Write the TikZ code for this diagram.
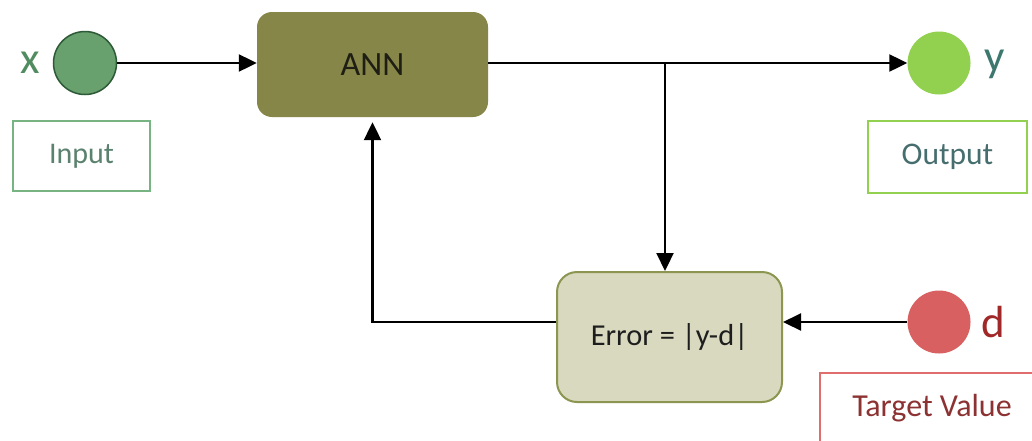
\documentclass[tikz,border=0pt]{standalone}
\usepackage{fontspec}
\setmainfont{Carlito}
\usetikzlibrary{arrows.meta}
\definecolor{incol}{RGB}{104,160,110}
\definecolor{inborder}{RGB}{45,90,55}
\definecolor{annfill}{RGB}{134,134,72}
\definecolor{errfill}{RGB}{216,217,190}
\definecolor{errborder}{RGB}{140,150,80}
\definecolor{outcol}{RGB}{146,208,80}
\definecolor{dcol}{RGB}{217,96,96}
\definecolor{inboxcol}{RGB}{120,180,130}
\definecolor{tgtbox}{RGB}{225,110,110}
\definecolor{xlab}{RGB}{80,140,95}
\definecolor{intext}{RGB}{90,130,110}
\definecolor{ylab}{RGB}{60,120,110}
\definecolor{outtext}{RGB}{70,110,110}
\definecolor{dlab}{RGB}{160,40,40}
\definecolor{tgttext}{RGB}{140,50,50}
\begin{document}
\begin{tikzpicture}[x=1pt,y=-1pt,
  arr/.style={line width=2.2pt,-{Triangle[length=18pt,width=17pt]}},
  dot/.style={circle,minimum size=63pt,inner sep=0pt},
  lab/.style={font=\fontsize{45}{50}\selectfont,inner sep=0pt},
  tag/.style={rectangle,line width=1.5pt,inner sep=0pt},
  proc/.style={rectangle,inner sep=0pt}]
\useasboundingbox[fill=white] (0,0) rectangle (1032,440);
% input
\node[dot,fill=incol,draw=inborder,line width=1.5pt] (xin) at (85,63) {};
\node[lab,text=xlab] (xl) at (30,62.5) {x};
\node[tag,draw=inboxcol,text=intext,minimum width=137pt,minimum height=70pt,font=\fontsize{30}{34}\selectfont] (inbox) at (81.5,156) {Input};
% ANN
\node[proc,fill=annfill,rounded corners=15pt,minimum width=231pt,minimum height=105pt,text={rgb,255:red,30;green,30;blue,20},font=\fontsize{34}{38}\selectfont] (ann) at (372.5,64.5) {ANN};
% output
\node[dot,fill=outcol] (yout) at (939,63) {};
\node[lab,text=ylab] (yl) at (995,64) {y};
\node[tag,draw=outcol,text=outtext,minimum width=159pt,minimum height=72pt,font=\fontsize{31.5}{35}\selectfont] (outbox) at (947.5,157) {Output};
% error
\node[proc,fill=errfill,draw=errborder,line width=2pt,rounded corners=20pt,minimum width=225pt,minimum height=130pt,text={rgb,255:red,30;green,30;blue,30},font=\fontsize{30.4}{34}\selectfont] (err) at (669.5,337) {Error = |y-d|};
% target
\node[dot,fill=dcol] (dout) at (939,322) {};
\node[lab,text=dlab] (dl) at (993,322.5) {d};
\node[tag,draw=tgtbox,text=tgttext,minimum width=224pt,minimum height=70pt,font=\fontsize{32}{36}\selectfont] (tbox) at (932,408) {Target Value};
% connectors
\coordinate (br) at (665,63);
\draw[arr] (xin.east) -- (xin.east -| ann.west);
\draw[arr] (ann.east |- yout) -- (yout.west);
\draw[arr] (br) -- (br |- err.north);
\draw[arr] (dout.west) -- (err.east |- dout);
\draw[arr,shorten >=5pt] (err.west |- dout) -| (ann.south);
\end{tikzpicture}
\end{document}
